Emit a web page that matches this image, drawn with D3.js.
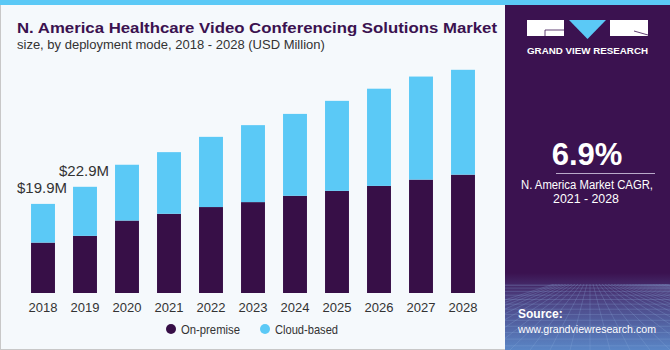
<!DOCTYPE html>
<html>
<head>
<meta charset="utf-8">
<script src="https://cdn.jsdelivr.net/npm/d3@7"></script>
<style>
  body { margin: 0; padding: 0; background: #fff; }
  svg { display: block; font-family: "Liberation Sans", Arial, sans-serif; }
</style>
</head>
<body>
<div id="chart"></div>
<script>
const years = ["2018", "2019", "2020", "2021", "2022", "2023", "2024", "2025", "2026", "2027", "2028"];
const onPremise = [11.2, 12.7, 16.1, 17.6, 19.1, 20.2, 21.6, 22.7, 23.8, 25.2, 26.3];
const cloudBased = [8.6, 10.9, 12.4, 13.7, 15.6, 17.1, 18.2, 20.0, 21.6, 22.9, 23.3];
const seriesNames = ["On-premise", "Cloud-based"];
const seriesColors = ["#370f47", "#5bc9f6"];
const barLabels = [{ year: "2018", text: "$19.9M" }, { year: "2019", text: "$22.9M" }];

const width = 670, height = 350;
const panelX = 505;

const svg = d3.select('#chart')
	.append('svg')
		.attr('width', width)
		.attr('height', height);

// background
svg.append('rect')
	.attr('width', width).attr('height', height)
	.attr('fill', '#f5f9fc');
svg.append('rect')
	.attr('x', 0.5).attr('y', 0).attr('width', width - 1).attr('height', height - 0.5)
	.attr('fill', 'none').attr('stroke', '#c8c8c8');

// right panel
const defs = svg.append('defs');
const grad = defs.append('linearGradient')
	.attr('id', 'panel-grad').attr('x1', 0).attr('y1', 0).attr('x2', 0).attr('y2', 1);
grad.append('stop').attr('offset', '0%').attr('stop-color', '#3b1250');
grad.append('stop').attr('offset', '78%').attr('stop-color', '#3b1250');
grad.append('stop').attr('offset', '84%').attr('stop-color', '#4a3a7a');
grad.append('stop').attr('offset', '100%').attr('stop-color', '#5a86c6');

svg.append('rect')
	.attr('x', panelX).attr('y', 0).attr('width', width - panelX).attr('height', height)
	.attr('fill', 'url(#panel-grad)');

// perspective grid at panel bottom
defs.append('clipPath').attr('id', 'panel-clip')
	.append('rect').attr('x', panelX).attr('y', 284).attr('width', width - panelX).attr('height', height - 284);
const grid = svg.append('g')
	.attr('clip-path', 'url(#panel-clip)')
	.attr('stroke', '#8fb0e0').attr('stroke-opacity', 0.35).attr('stroke-width', 0.7);
d3.range(0, 14).forEach(i => {
	const yy = 284 + Math.pow(i, 1.45) * 1.5;
	grid.append('line').attr('x1', panelX).attr('x2', width).attr('y1', yy).attr('y2', yy);
});
d3.range(-12, 26).forEach(i => {
	const x0 = 590 + i * 8;
	grid.append('line').attr('x1', 590 + i * 3).attr('y1', 284).attr('x2', x0 + (x0 - 590) * 1.5).attr('y2', height);
});

// top stripe
svg.append('rect')
	.attr('x', 0).attr('y', 0).attr('width', width).attr('height', 5)
	.attr('fill', '#5bc9f6');

// logo
const logo = svg.append('g');
logo.append('rect').attr('x', 527).attr('y', 20).attr('width', 37).attr('height', 16).attr('fill', '#fff');
logo.append('path').attr('d', 'M545,36 L545,30 L564,30').attr('fill', 'none').attr('stroke', '#3b1250').attr('stroke-width', 0.8);
logo.append('path').attr('d', 'M569,20 L606,20 L587.5,39 Z').attr('fill', '#5bc9f6');
logo.append('rect').attr('x', 610).attr('y', 20).attr('width', 38).attr('height', 16).attr('fill', '#fff');
logo.append('path').attr('d', 'M634,31 L648,35').attr('stroke', '#3b1250').attr('stroke-width', 0.8);
logo.append('text')
	.attr('x', 527).attr('y', 54)
	.attr('fill', '#fff')
	.attr('font-size', 9.5).attr('font-weight', 'bold')
	.attr('textLength', 121).attr('lengthAdjust', 'spacingAndGlyphs')
	.text('GRAND VIEW RESEARCH');

// CAGR block
svg.append('text')
	.attr('x', 587).attr('y', 165)
	.attr('text-anchor', 'middle').attr('fill', '#fff')
	.attr('font-size', 31).attr('font-weight', 'bold')
	.text('6.9%');
svg.append('line')
	.attr('x1', 556).attr('x2', 655).attr('y1', 173.5).attr('y2', 173.5)
	.attr('stroke', '#b9a9c9').attr('stroke-width', 1);
svg.append('text')
	.attr('x', 521).attr('y', 189)
	.attr('fill', '#fff')
	.attr('font-size', 12)
	.attr('textLength', 132).attr('lengthAdjust', 'spacingAndGlyphs')
	.text('N. America Market CAGR,');
svg.append('text')
	.attr('x', 553).attr('y', 203)
	.attr('fill', '#fff')
	.attr('font-size', 13)
	.attr('textLength', 66).attr('lengthAdjust', 'spacingAndGlyphs')
	.text('2021 - 2028');

// source
svg.append('text')
	.attr('x', 518).attr('y', 318)
	.attr('fill', '#fff').attr('font-size', 12).attr('font-weight', 'bold')
	.text('Source:');
svg.append('text')
	.attr('x', 518).attr('y', 333)
	.attr('fill', '#fff').attr('font-size', 11)
	.attr('textLength', 138).attr('lengthAdjust', 'spacingAndGlyphs')
	.text('www.grandviewresearch.com');

// titles
svg.append('text')
	.attr('x', 17).attr('y', 33)
	.attr('fill', '#3b1250').attr('font-size', 15.5).attr('font-weight', 'bold')
	.attr('textLength', 480).attr('lengthAdjust', 'spacingAndGlyphs')
	.text('N. America Healthcare Video Conferencing Solutions Market');
svg.append('text')
	.attr('x', 17).attr('y', 49)
	.attr('fill', '#333').attr('font-size', 13)
	.text('size, by deployment mode, 2018 - 2028 (USD Million)');

// chart
const x = d3.scaleBand()
	.domain(years)
	.range([22, 484])
	.paddingInner(0.43)
	.paddingOuter(0.215);
const y = d3.scaleLinear()
	.domain([0, 50])
	.range([293, 68]);

const data = years.map((yr, i) => ({ year: yr, onPremise: onPremise[i], cloudBased: cloudBased[i] }));
const stack = d3.stack().keys(["onPremise", "cloudBased"]);
const series = stack(data);

const bars = svg.append('g').attr('class', 'bars');
bars.selectAll('g')
	.data(series).enter()
	.append('g')
		.attr('fill', (d, i) => seriesColors[i])
	.selectAll('rect')
	.data(d => d).enter()
	.append('rect')
		.attr('x', d => x(d.data.year))
		.attr('width', x.bandwidth())
		.attr('y', d => y(d[1]))
		.attr('height', d => y(d[0]) - y(d[1]));

// year axis
const xAxis = svg.append('g')
	.attr('transform', 'translate(0,293)')
	.call(d3.axisBottom(x).tickSize(0).tickPadding(10));
xAxis.select('.domain').remove();
xAxis.selectAll('text')
	.attr('font-family', '"Liberation Sans", Arial, sans-serif')
	.attr('font-size', 13)
	.attr('fill', '#333');

// value labels
svg.append('g').selectAll('text')
	.data(barLabels).enter()
	.append('text')
		.attr('x', d => x(d.year) + x.bandwidth() / 2 - 1)
		.attr('y', d => {
			const i = years.indexOf(d.year);
			return y(onPremise[i] + cloudBased[i]) - 11;
		})
		.attr('text-anchor', 'middle')
		.attr('fill', '#333')
		.attr('font-size', 15)
		.text(d => d.text);

// legend
const legendX = [171, 265];
const legendW = [59, 63];
const legend = svg.append('g').selectAll('g')
	.data(seriesNames).enter()
	.append('g')
		.attr('transform', (d, i) => `translate(${legendX[i]},329)`);
legend.append('circle').attr('r', 5).attr('fill', (d, i) => seriesColors[i]);
legend.append('text')
	.attr('x', 10).attr('y', 4.5)
	.attr('font-size', 13).attr('fill', '#333')
	.attr('textLength', (d, i) => legendW[i]).attr('lengthAdjust', 'spacingAndGlyphs')
	.text(d => d);
</script>
</body>
</html>
